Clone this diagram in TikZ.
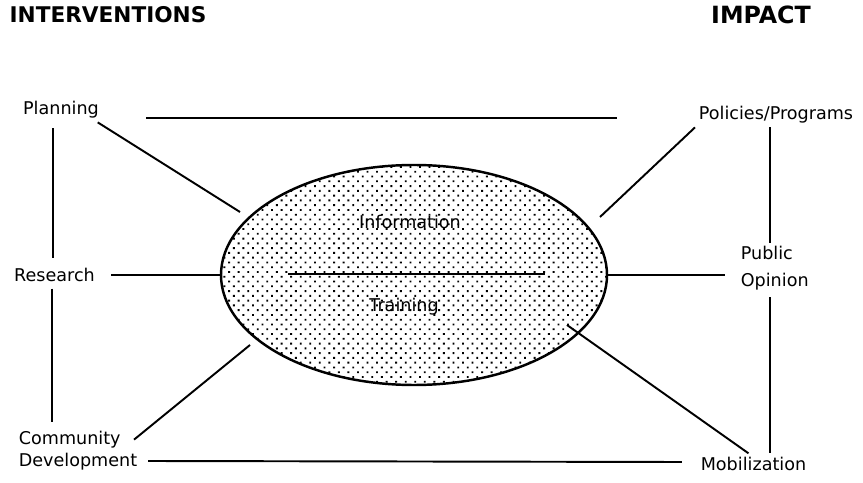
\documentclass[tikz,border=0pt]{standalone}
\usepackage{fontspec}
\setmainfont{DejaVu Sans}
\usepackage{tikz}
\usetikzlibrary{shapes.geometric,patterns.meta,calc}
\tikzset{
  link/.style={line width=1.1pt},
  headnode/.style={font=\bfseries\fontsize{12.3}{15}\selectfont, inner sep=1pt},
  itemnode/.style={font=\fontsize{10}{12.5}\selectfont, align=left, inner sep=2pt},
  hubnode/.style={draw, ellipse, line width=1.4pt, minimum width=7.72cm, minimum height=4.4cm, inner sep=0pt, pattern={Dots[distance=1.35mm, angle=45, radius=0.75pt]}},
  hubtext/.style={font=\fontsize{10}{12}\selectfont, inner sep=1pt}
}

\begin{document}
\begin{tikzpicture}
  \useasboundingbox (0,0) rectangle (17.26,9.64);
  \node[headnode] (interv) at (2.16,9.34) {INTERVENTIONS};
  \node[headnode, font=\bfseries\fontsize{13.5}{15}\selectfont] (impact) at (15.22,9.34) {IMPACT};
  \node[itemnode] (plan) at (1.22,7.44) {Planning};
  \node[itemnode] (pol) at (15.52,7.34) {Policies/Programs};
  \node[itemnode] (res) at (1.09,4.14) {Research};
  \node[itemnode, anchor=west] (pub) at (14.74,4.27) {Public\\[3pt]Opinion};
  \node[itemnode, anchor=west] (comm) at (0.30,0.62) {Community\\Development};
  \node[itemnode] (mob) at (15.07,0.36) {Mobilization};
  \node[hubnode] (ell) at (8.28,4.14) {};
  \node[hubtext] (info) at (8.20,5.20) {Information};
  \node[hubtext] (train) at (8.08,3.50) {Training};
  \draw[link] ($(ell.center)+(-2.52,0.02)$) -- ($(ell.center)+(2.62,0.02)$);

  \draw[link] ($(plan.east)+(0.87,-0.16)$) -- ($(pol.west)+(-1.56,-0.06)$);
  \draw[link] ($(plan.south)+(-0.16,-0.12)$) -- ($(plan.south |- res.north)+(-0.16,0.12)$);
  \draw[link] ($(res.south)+(-0.05,-0.06)$) -- ($(res.south |- comm.north)+(-0.05,0.12)$);
  \draw[link, shorten <=0.25cm] (res.east) -- (ell.west);
  \draw[link] ($(plan.south east)+(-0.1,0)$) -- ($(ell.center)+(-3.48,1.26)$);
  \draw[link] ($(comm.north east)+(-0.14,-0.24)$) -- ($(ell.center)+(-3.28,-1.40)$);
  \draw[link] ($(comm.east)+(0.14,-0.2)$) -- ($(mob.west)+(-0.3,0.04)$);
  \draw[link] (pol.south west) -- ($(ell.center)+(3.72,1.16)$);
  \draw[link, shorten >=0.25cm] (ell.east) -- (ell.east -| pub.west);
  \draw[link] ($(ell.center)+(3.06,-1.00)$) -- ($(mob.north)+(-0.1,0)$);
  \draw[link] ($(pub.north |- pol.south)+(-0.1,0)$) -- ($(pub.north)+(-0.1,0)$);
  \draw[link] ($(pub.south)+(-0.1,-0.06)$) -- ($(pub.south |- mob.north)+(-0.1,0)$);
\end{tikzpicture}
\end{document}
